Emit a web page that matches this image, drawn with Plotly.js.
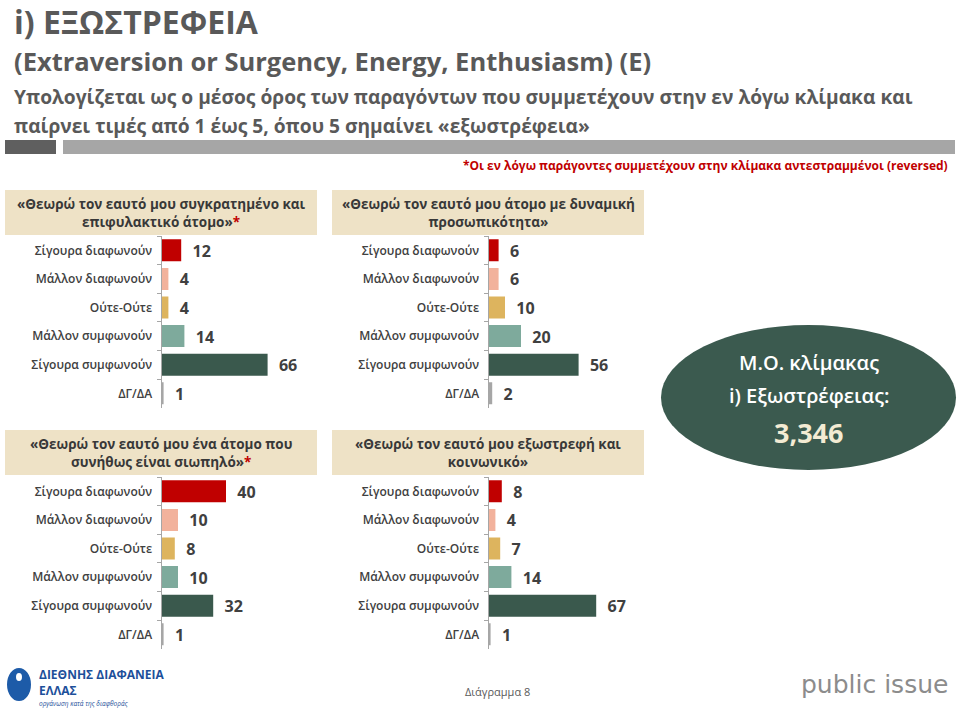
<!DOCTYPE html>
<html>
<head>
<meta charset="utf-8">
<script src="https://cdn.plot.ly/plotly-3.0.1.min.js"></script>
<style>html,body{margin:0;padding:0;background:#fff;}#chart{width:960px;height:708px;}</style>
</head>
<body>
<div id="chart"></div>
<script>
// ---------- data ----------
const categories = ["Σίγουρα διαφωνούν", "Μάλλον διαφωνούν", "Ούτε-Ούτε", "Μάλλον συμφωνούν", "Σίγουρα συμφωνούν", "ΔΓ/ΔΑ"];
const reservedValues = [12, 4, 4, 14, 66, 1];     // «συγκρατημένο και επιφυλακτικό άτομο»*
const dynamicValues = [6, 6, 10, 20, 56, 2];      // «άτομο με δυναμική προσωπικότητα»
const quietValues = [40, 10, 8, 10, 32, 1];       // «συνήθως είναι σιωπηλό»*
const outgoingValues = [8, 4, 7, 14, 67, 1];      // «εξωστρεφή και κοινωνικό»
const panelTitles = [
  "«Θεωρώ τον εαυτό μου συγκρατημένο και<br>επιφυλακτικό άτομο»<span style='color:#C00000'>*</span>",
  "«Θεωρώ τον εαυτό μου άτομο με δυναμική<br>προσωπικότητα»",
  "«Θεωρώ τον εαυτό μου ένα άτομο που<br>συνήθως είναι σιωπηλό»<span style='color:#C00000'>*</span>",
  "«Θεωρώ τον εαυτό μου εξωστρεφή και<br>κοινωνικό»"
];
const scaleAverage = "3,346";

// ---------- styling ----------
const barColors = ["#C00000", "#F2B29C", "#DDB45E", "#7EAA9C", "#3A594D", "#A6A6A6"];
const W = 960, H = 708;
const px = x => x / W;
const py = y => 1 - y / H;
const FONT = "Open Sans, Noto Sans, sans-serif";
const TXT = "#404040";

const panels = [
  {vals: reservedValues, x0: 162, y0: 236, box: [5, 190, 317, 235]},
  {vals: dynamicValues, x0: 489, y0: 236, box: [332, 190, 644, 235]},
  {vals: quietValues, x0: 162, y0: 477, box: [5, 430, 317, 475]},
  {vals: outgoingValues, x0: 489, y0: 477, box: [332, 430, 644, 475]}
];
const PXPERUNIT = 1.6, PANELW = 168, PANELH = 171.6;

const data = [], layout = {
  width: W, height: H, margin: {l: 0, r: 0, t: 0, b: 0},
  paper_bgcolor: "#fff", plot_bgcolor: "rgba(0,0,0,0)",
  showlegend: false, bargap: 0.23,
  font: {family: FONT, color: TXT},
  shapes: [], annotations: []
};

panels.forEach((p, i) => {
  const n = i === 0 ? "" : String(i + 1);
  data.push({
    type: "bar", orientation: "h",
    x: p.vals, y: categories,
    xaxis: "x" + n, yaxis: "y" + n,
    marker: {color: barColors},
    texttemplate: "  %{x}", textposition: "outside", cliponaxis: false,
    textfont: {family: FONT, size: 17.5, color: TXT, weight: "bold"},
    hoverinfo: "skip"
  });
  layout["xaxis" + n] = {
    domain: [px(p.x0), px(p.x0 + PANELW)], range: [0, PANELW / PXPERUNIT],
    anchor: "y" + n, visible: false, fixedrange: true
  };
  layout["yaxis" + n] = {
    domain: [py(p.y0 + PANELH), py(p.y0)], anchor: "x" + n,
    type: "category", autorange: "reversed",
    showline: true, linecolor: "#A6A6A6", linewidth: 1.5,
    ticks: "outside", tickson: "boundaries", ticklen: 4, tickcolor: "#A6A6A6", tickwidth: 1,
    showgrid: false, zeroline: false, ticklabelstandoff: 6,
    tickfont: {family: FONT, size: 12, color: TXT, weight: 600}, fixedrange: true
  };
  layout.shapes.push({type: "rect", xref: "paper", yref: "paper",
    x0: px(p.box[0]), x1: px(p.box[2]), y0: py(p.box[3]), y1: py(p.box[1]),
    fillcolor: "#EEE2C6", line: {width: 0}, layer: "below"});
  layout.annotations.push({xref: "paper", yref: "paper",
    x: px((p.box[0] + p.box[2]) / 2), y: py((p.box[1] + p.box[3]) / 2),
    xanchor: "center", yanchor: "middle", showarrow: false, align: "center",
    text: panelTitles[i], font: {family: FONT, size: 13.5, color: "#383838", weight: "bold"}});
});

// header
const hdr = (text, x, y, size, color, extra) => Object.assign({
  xref: "paper", yref: "paper", x: px(x), y: py(y), xanchor: "left", yanchor: "middle",
  showarrow: false, text: text, font: {family: FONT, size: size, color: color || "#595959", weight: "bold"}
}, extra || {});
layout.annotations.push(
  hdr("i) ΕΞΩΣΤΡΕΦΕΙΑ", 12, 22, 32),
  hdr("(Extraversion or Surgency, Energy, Enthusiasm) (E)", 12, 61, 25.5),
  hdr("Υπολογίζεται ως ο μέσος όρος των παραγόντων που συμμετέχουν στην εν λόγω κλίμακα και", 12, 97, 19.2),
  hdr("παίρνει τιμές από 1 έως 5, όπου 5 σημαίνει «εξωστρέφεια»", 12, 126, 19.2),
  hdr("*Οι εν λόγω παράγοντες συμμετέχουν στην κλίμακα αντεστραμμένοι (reversed)", 950, 165, 12, "#C00000", {xanchor: "right"})
);
layout.shapes.push(
  {type: "rect", xref: "paper", yref: "paper", x0: px(5), x1: px(56), y0: py(154), y1: py(140), fillcolor: "#5F5F5F", line: {width: 0}},
  {type: "rect", xref: "paper", yref: "paper", x0: px(63), x1: px(955), y0: py(154), y1: py(140), fillcolor: "#A6A6A6", line: {width: 0}}
);

// ellipse
layout.shapes.push({type: "circle", xref: "paper", yref: "paper",
  x0: px(661), x1: px(956), y0: py(470), y1: py(325), fillcolor: "#3B5A4F", line: {width: 0}});
layout.annotations.push(
  {xref: "paper", yref: "paper", x: px(809), y: py(362), showarrow: false, xanchor: "center", yanchor: "middle",
   text: "Μ.Ο. κλίμακας", font: {family: FONT, size: 20, color: "#FFFFFF", weight: 600}},
  {xref: "paper", yref: "paper", x: px(809), y: py(396), showarrow: false, xanchor: "center", yanchor: "middle",
   text: "i) Εξωστρέφειας:", font: {family: FONT, size: 20, color: "#FFFFFF", weight: 600}},
  {xref: "paper", yref: "paper", x: px(808), y: py(432), showarrow: false, xanchor: "center", yanchor: "middle",
   text: scaleAverage, font: {family: FONT, size: 27, color: "#F3EBD3", weight: "bold"}}
);

// footer
layout.shapes.push(
  {type: "circle", xref: "paper", yref: "paper", x0: px(7), x1: px(31), y0: py(701), y1: py(668), fillcolor: "#1D5BA8", line: {width: 0}},
  {type: "circle", xref: "paper", yref: "paper", x0: px(16), x1: px(22), y0: py(681), y1: py(673), fillcolor: "#FFFFFF", line: {width: 0}}
);
layout.annotations.push(
  {xref: "paper", yref: "paper", x: px(37), y: py(682), showarrow: false, xanchor: "left", yanchor: "middle", align: "left",
   text: "ΔΙΕΘΝΗΣ ΔΙΑΦΑΝΕΙΑ<br>ΕΛΛΑΣ", font: {family: FONT, size: 12, color: "#1D4F9A", weight: "bold"}},
  {xref: "paper", yref: "paper", x: px(37), y: py(703.5), showarrow: false, xanchor: "left", yanchor: "middle",
   text: "<i>οργάνωση κατά της διαφθοράς</i>", font: {family: FONT, size: 6.5, color: "#1D4F9A"}},
  {xref: "paper", yref: "paper", x: px(497), y: py(691), showarrow: false, xanchor: "center", yanchor: "middle",
   text: "Διάγραμμα 8", font: {family: FONT, size: 11, color: "#595959"}},
  {xref: "paper", yref: "paper", x: px(874), y: py(684), showarrow: false, xanchor: "center", yanchor: "middle",
   text: "public issue", font: {family: "DejaVu Sans, sans-serif", size: 25, color: "#8C8C8C"}}
);

Plotly.newPlot("chart", data, layout, {displayModeBar: false, staticPlot: true});
</script>
</body>
</html>
